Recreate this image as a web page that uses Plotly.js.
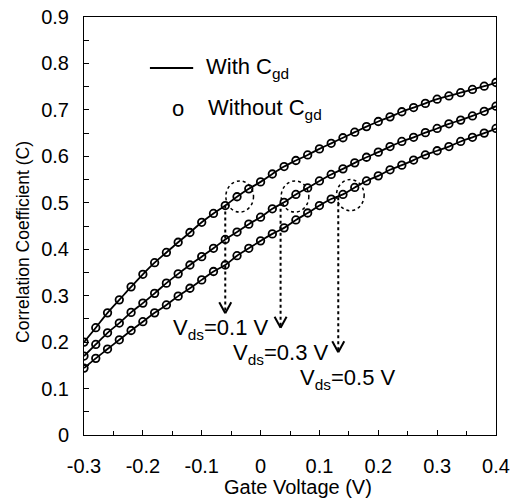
<!DOCTYPE html>
<html>
<head>
<meta charset="utf-8">
<script src="https://cdn.plot.ly/plotly-3.0.1.min.js"></script>
<style>html,body{margin:0;padding:0;background:#fff;}#chart{width:518px;height:502px;}</style>
</head>
<body>
<div id="chart"></div>
<script>
// Gate voltage (V)
const gateVoltage = [-0.30,-0.28,-0.26,-0.24,-0.22,-0.20,-0.18,-0.16,-0.14,-0.12,-0.10,-0.08,-0.06,-0.04,-0.02,0.00,
  0.02,0.04,0.06,0.08,0.10,0.12,0.14,0.16,0.18,0.20,0.22,0.24,0.26,0.28,0.30,0.32,0.34,0.36,0.38,0.40];
// Correlation coefficient, Vds = 0.1 V
const corrVds01 = [0.200,0.231,0.263,0.291,0.319,0.346,0.371,0.393,0.415,0.436,0.458,0.477,0.494,0.513,0.530,0.545,
  0.562,0.578,0.591,0.603,0.616,0.628,0.640,0.652,0.664,0.675,0.685,0.696,0.705,0.714,0.723,0.730,0.737,0.744,0.751,0.759];
// Vds = 0.3 V
const corrVds03 = [0.170,0.195,0.220,0.241,0.264,0.284,0.305,0.327,0.347,0.366,0.384,0.402,0.421,0.437,0.454,0.469,
  0.487,0.501,0.518,0.532,0.547,0.561,0.573,0.586,0.598,0.609,0.621,0.632,0.641,0.651,0.660,0.670,0.678,0.687,0.697,0.708];
// Vds = 0.5 V
const corrVds05 = [0.144,0.165,0.185,0.205,0.225,0.244,0.263,0.280,0.299,0.316,0.334,0.352,0.366,0.386,0.402,0.418,
  0.433,0.446,0.463,0.478,0.494,0.508,0.518,0.533,0.547,0.558,0.571,0.581,0.592,0.603,0.612,0.621,0.632,0.641,0.650,0.660];

const seriesList = [corrVds01, corrVds03, corrVds05];
const vdsLabels = ['V<sub>ds</sub>=0.1 V','V<sub>ds</sub>=0.3 V','V<sub>ds</sub>=0.5 V'];
// highlight circles: [xmin,xmax,ymin,ymax]
const circleBoxes = [[-0.059,-0.012,0.480,0.547],[0.035,0.082,0.480,0.547],[0.129,0.176,0.483,0.550]];
// arrows: x, start y, tip y
const arrowX = [-0.060, 0.034, 0.132];
const arrowFromY = [0.494, 0.500, 0.512];
const arrowToY = [0.262, 0.231, 0.178];
// label positions (left x, centre y)
const labelX = [-0.152, -0.051, 0.063];
const labelY = [0.228, 0.174, 0.120];
const xTicks = [-0.3,-0.2,-0.1,0,0.1,0.2,0.3,0.4];
const yTicks = [0,0.1,0.2,0.3,0.4,0.5,0.6,0.7,0.8,0.9];
const xTitle = 'Gate Voltage (V)';
const yTitle = 'Correlation Coefficient (C)';

const FONT = 'Liberation Sans, Arial, sans-serif';
const traces = [];
seriesList.forEach((ys) => {
  traces.push({x: gateVoltage, y: ys, type:'scatter', mode:'lines',
    line:{color:'#000', width:1.8, shape:'spline'}, showlegend:false, hoverinfo:'skip'});
  traces.push({x: gateVoltage, y: ys, type:'scatter', mode:'markers',
    marker:{symbol:'circle-open', size:7.5, color:'#000', line:{width:1.8, color:'#000'}}, showlegend:false, hoverinfo:'skip'});
});

const shapes = [];
const annotations = [];
circleBoxes.forEach(b => {
  shapes.push({type:'circle', xref:'x', yref:'y', x0:b[0], x1:b[1], y0:b[2], y1:b[3],
    line:{color:'#000', width:1.5, dash:'dot'}});
});
arrowX.forEach((ax, i) => {
  shapes.push({type:'line', xref:'x', yref:'y', x0:ax, x1:ax, y0:arrowFromY[i], y1:arrowToY[i],
    line:{color:'#000', width:2, dash:'dot'}});
  [-6, 6].forEach(dx => {
    shapes.push({type:'line', xref:'x', yref:'y', xsizemode:'pixel', ysizemode:'pixel',
      xanchor: ax, yanchor: arrowToY[i], x0: dx, x1: 0, y0: 11, y1: 0,
      line:{color:'#000', width:2}});
  });
  annotations.push({xref:'x', yref:'y', x: labelX[i], y: labelY[i], xanchor:'left', yanchor:'middle',
    text: vdsLabels[i], showarrow:false, font:{family:FONT, size:22, color:'#000'}});
});
// legend (manual)
shapes.push({type:'line', xref:'paper', yref:'paper', x0:0.160, x1:0.265, y0:0.878, y1:0.878,
  line:{color:'#000', width:1.8}});
annotations.push({xref:'paper', yref:'paper', x:0.292, y:0.878, xanchor:'left', yanchor:'middle',
  text:'With C<sub>gd</sub>', showarrow:false, font:{family:FONT, size:22, color:'#000'}});
annotations.push({xref:'paper', yref:'paper', x:0.228, y:0.780, xanchor:'center', yanchor:'middle',
  text:'o', showarrow:false, font:{family:FONT, size:22, color:'#000'}});
annotations.push({xref:'paper', yref:'paper', x:0.297, y:0.780, xanchor:'left', yanchor:'middle',
  text:'Without C<sub>gd</sub>', showarrow:false, font:{family:FONT, size:22, color:'#000'}});
// axis titles
annotations.push({xref:'paper', yref:'paper', x:0.519, y:-0.124, xanchor:'center', yanchor:'middle',
  text:xTitle, showarrow:false, font:{family:FONT, size:20, color:'#000'}});
annotations.push({xref:'paper', yref:'paper', x:-0.148, y:0.462, xanchor:'center', yanchor:'middle',
  textangle:-90, text:yTitle, showarrow:false, font:{family:FONT, size:17.5, color:'#000'}});

const layout = {
  width:518, height:502,
  margin:{l:84, r:22, t:17, b:67, pad:0},
  paper_bgcolor:'#fff', plot_bgcolor:'#fff',
  font:{family:FONT, color:'#000'},
  showlegend:false,
  xaxis:{range:[-0.3,0.4], tickvals:xTicks, ticktext:xTicks.map(v=>v===0?'0':v.toFixed(1)),
    ticks:'inside', ticklen:5, tickwidth:1, tickcolor:'#000',
    minor:{tickvals:[-0.25,-0.15,-0.05,0.05,0.15,0.25,0.35], ticks:'inside', ticklen:4, tickwidth:1, tickcolor:'#000'},
    showline:true, linecolor:'#000', linewidth:1, mirror:true, showgrid:false, zeroline:false,
    tickfont:{family:FONT, size:20, color:'#000'}, ticklabelstandoff:13},
  yaxis:{range:[0,0.9], tickvals:yTicks, ticktext:yTicks.map(v=>v===0?'0':v.toFixed(1)),
    ticks:'inside', ticklen:5, tickwidth:1, tickcolor:'#000',
    minor:{tickvals:[0.05,0.15,0.25,0.35,0.45,0.55,0.65,0.75,0.85], ticks:'inside', ticklen:5, tickwidth:1, tickcolor:'#000'},
    showline:true, linecolor:'#000', linewidth:1, mirror:true, showgrid:false, zeroline:false,
    tickfont:{family:FONT, size:20, color:'#000'}, ticklabelstandoff:10},
  shapes: shapes,
  annotations: annotations
};
Plotly.newPlot('chart', traces, layout, {staticPlot:true, displayModeBar:false});
</script>
</body>
</html>
